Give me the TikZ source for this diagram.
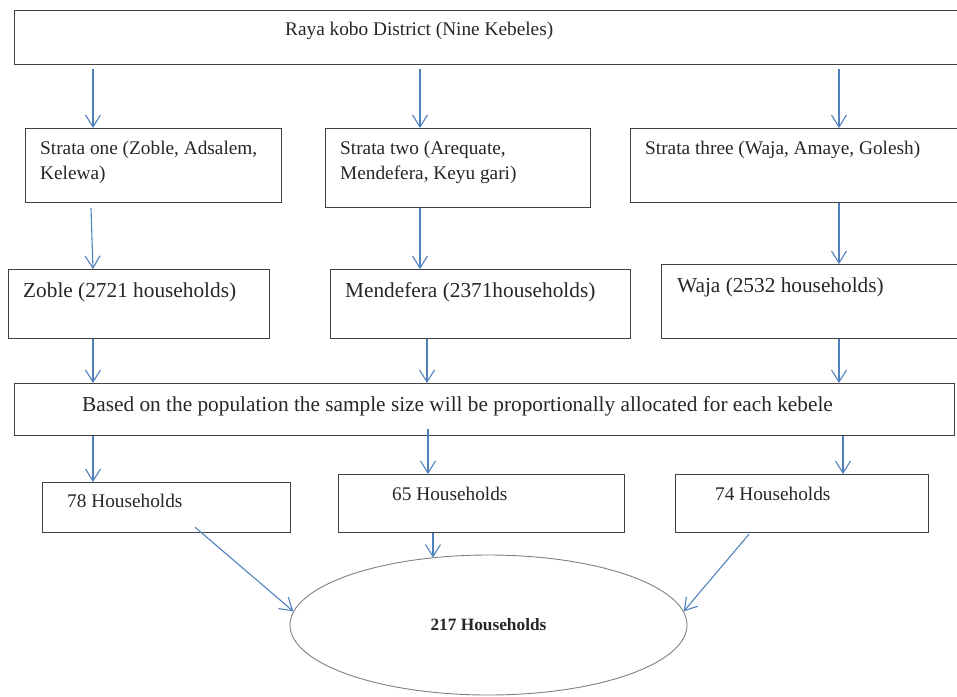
\documentclass[tikz,border=0pt]{standalone}
\usepackage{fontspec}
\setmainfont{Liberation Serif}
\usetikzlibrary{arrows.meta,shapes.geometric}
\definecolor{boxgray}{HTML}{404040}
\definecolor{ellgray}{HTML}{808080}
\definecolor{arrblue}{HTML}{4F81BD}
\begin{document}
\begin{tikzpicture}[x=1pt,y=-1pt,
  box/.style={draw=boxgray, line width=1.2pt, rectangle, inner sep=0pt, anchor=north west},
  txt/.style={inner sep=0pt, anchor=base west, align=left, text=black!85, font=\fontsize{19.3}{25}\selectfont},
  bigtxt/.style={txt, font=\fontsize{21.3}{25}\selectfont},
  arr/.style={draw=arrblue, line width=1.1pt, -{Straight Barb[length=12pt,width=15pt,line width=1.1pt]}}]
\useasboundingbox (0,0) rectangle (957,696);
% boxes
\node[box, minimum width=951, minimum height=54] (top) at (14,10) {};
\node[box, minimum width=256, minimum height=74] (sone) at (25,128) {};
\node[box, minimum width=265, minimum height=79] (stwo) at (325,128) {};
\node[box, minimum width=335, minimum height=74] (sthree) at (630,128) {};
\node[box, minimum width=261, minimum height=69] (zoble) at (8,269) {};
\node[box, minimum width=300, minimum height=69] (mend) at (330,269) {};
\node[box, minimum width=304, minimum height=74] (waja) at (661,264) {};
\node[box, minimum width=940, minimum height=52] (alloc) at (14,383) {};
\node[box, minimum width=248, minimum height=50] (h78) at (42,482) {};
\node[box, minimum width=286, minimum height=58] (h65) at (338,474) {};
\node[box, minimum width=253, minimum height=58] (h74) at (675,474) {};
\node[ellipse, draw=ellgray, line width=0.9pt, minimum width=397, minimum height=140, inner sep=0pt,
      font=\fontsize{17.3}{20}\selectfont\bfseries, text=black!85] (ell) at (488.5,625) {217 Households};
% texts
\node[txt] (top-t) at (285,35) {Raya kobo District (Nine Kebeles)};
\node[txt] (sone-t) at (40,179) {Strata one (Zoble, Adsalem,\\Kelewa)};
\node[txt] (stwo-t) at (340,179) {Strata two (Arequate,\\Mendefera, Keyu gari)};
\node[txt] (sthree-t) at (645,154) {Strata three (Waja, Amaye, Golesh)};
\node[bigtxt] (zoble-t) at (23,297) {Zoble (2721 households)};
\node[bigtxt] (mend-t) at (345,297) {Mendefera (2371households)};
\node[bigtxt] (waja-t) at (677,292) {Waja (2532 households)};
\node[bigtxt] (alloc-t) at (82,411) {Based on the population the sample size will be proportionally allocated for each kebele};
\node[txt] (h78-t) at (67,507) {78 Households};
\node[txt] (h65-t) at (392,500) {65 Households};
\node[txt] (h74-t) at (715,500) {74 Households};
% arrows
\draw[arr] ([shift={(79,4)}]top.south west) -- ([shift={(68,0)}]sone.north west);
\draw[arr] ([shift={(406,4)}]top.south west) -- ([shift={(95,0)}]stwo.north west);
\draw[arr] ([shift={(825,4)}]top.south west) -- ([shift={(209,0)}]sthree.north west);
\draw[arr] ([shift={(66,5)}]sone.south west) -- ([shift={(85,0)}]zoble.north west);
\draw[arr] ([shift={(95,0)}]stwo.south west) -- ([shift={(90,0)}]mend.north west);
\draw[arr] ([shift={(209,0)}]sthree.south west) -- ([shift={(178,0)}]waja.north west);
\draw[arr] ([shift={(85,0)}]zoble.south west) -- ([shift={(79,0)}]alloc.north west);
\draw[arr] ([shift={(97,0)}]mend.south west) -- ([shift={(413,0)}]alloc.north west);
\draw[arr] ([shift={(178,0)}]waja.south west) -- ([shift={(825,0)}]alloc.north west);
\draw[arr] ([shift={(79,0)}]alloc.south west) -- ([shift={(51,0)}]h78.north west);
\draw[arr] ([shift={(414,-7)}]alloc.south west) -- ([shift={(90,0)}]h65.north west);
\draw[arr] ([shift={(829,0)}]alloc.south west) -- ([shift={(168,0)}]h74.north west);
\draw[arr] ([shift={(153,-6)}]h78.south west) -- (ell.176);
\draw[arr] ([shift={(95,0)}]h65.south west) -- ([shift={(-55.5,3)}]ell.north);
\draw[arr] ([shift={(74,1)}]h74.south west) -- (ell.4);
\end{tikzpicture}
\end{document}
